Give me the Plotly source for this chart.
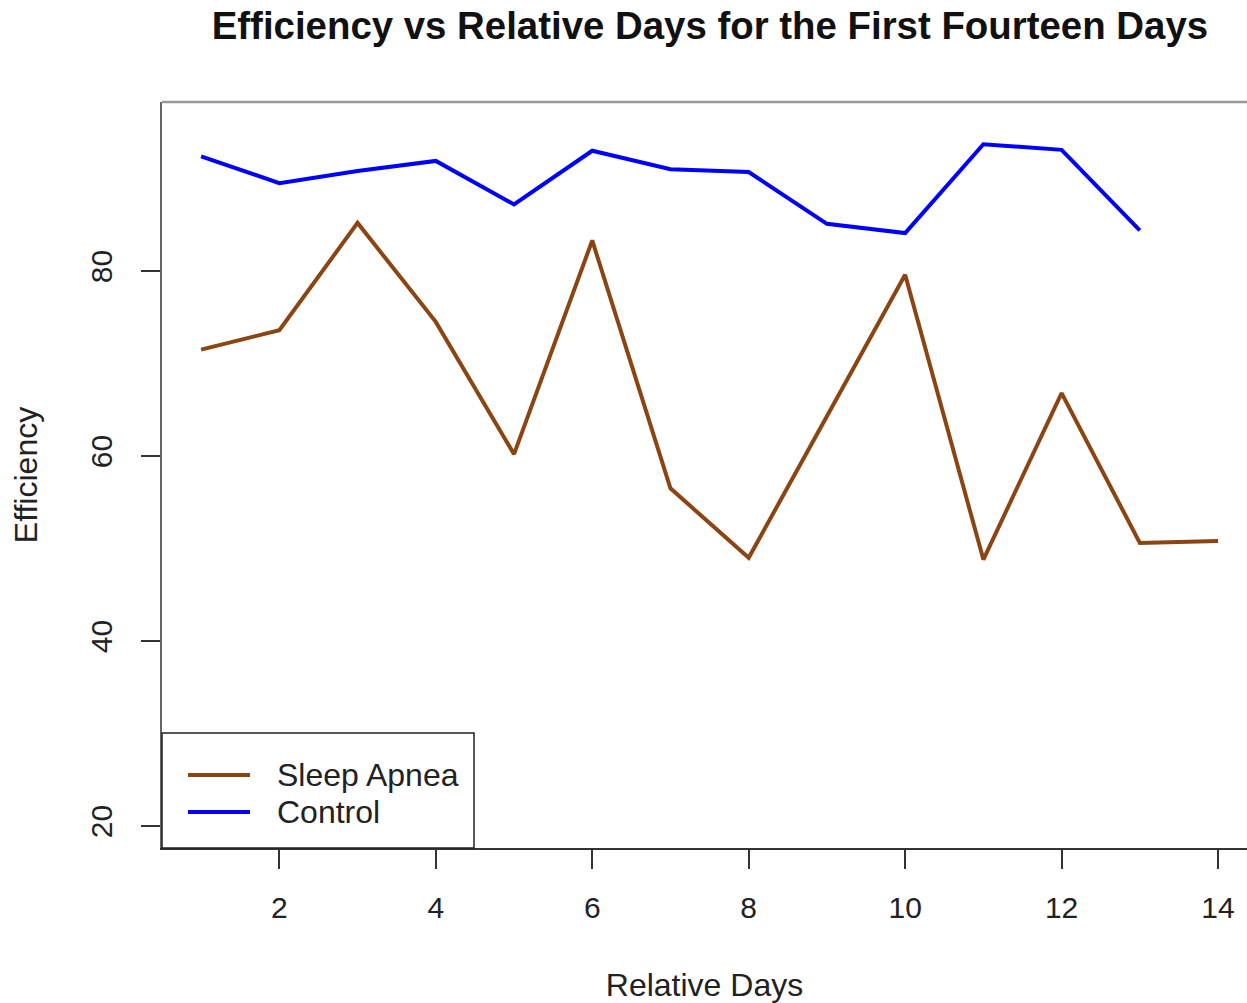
import plotly.graph_objects as go

# Sleep efficiency over the first fourteen relative days
days_apnea = list(range(1, 15))
apnea_eff = [71.5, 73.6, 85.2, 74.5, 60.2, 83.3, 56.5, 49.0, 64.3, 79.6, 48.8, 66.8, 50.6, 50.8]
days_control = list(range(1, 14))
control_eff = [92.4, 89.5, 90.8, 91.9, 87.2, 93.0, 91.0, 90.7, 85.1, 84.1, 93.7, 93.1, 84.4]

series_names = ["Sleep Apnea", "Control"]
series_colors = ["#8B4513", "#0000FF"]

x_ticks = [2, 4, 6, 8, 10, 12, 14]
y_ticks = [20, 40, 60, 80]

FONT = "Liberation Sans, Arial, Helvetica, sans-serif"
AXIS_COLOR = "#333333"
TEXT_COLOR = "#222222"

W, H = 1247, 1003
ML, MR, MT, MB = 162, 0, 102, 155
PW, PH = W - ML - MR, H - MT - MB


def px_x(px):
    """Figure pixel column -> paper x."""
    return (px - ML) / PW


def px_y(py):
    """Figure pixel row -> paper y."""
    return (H - MB - py) / PH


fig = go.Figure()
fig.add_trace(go.Scatter(
    x=days_apnea, y=apnea_eff, mode="lines", name=series_names[0],
    line=dict(color=series_colors[0], width=4),
))
fig.add_trace(go.Scatter(
    x=days_control, y=control_eff, mode="lines", name=series_names[1],
    line=dict(color=series_colors[1], width=4),
))

fig.update_layout(
    width=W, height=H,
    margin=dict(l=ML, r=MR, t=MT, b=MB),
    paper_bgcolor="white", plot_bgcolor="white",
    font=dict(family=FONT, size=30, color=TEXT_COLOR),
    title=dict(
        text="<b>Efficiency vs Relative Days for the First Fourteen Days</b>",
        font=dict(size=38.4, color="#111111"),
        x=0.505, xref="paper", xanchor="center",
        y=1 - 26 / H, yref="container", yanchor="middle",
    ),
    showlegend=False,
)

fig.update_xaxes(
    range=[0.5, 14.37], tickmode="array", tickvals=x_ticks,
    ticks="outside", ticklen=19, tickwidth=1.5, tickcolor=AXIS_COLOR,
    showline=True, linecolor=AXIS_COLOR, linewidth=2, mirror=False,
    showgrid=False, zeroline=False, ticklabelstandoff=13,
    tickfont=dict(size=30),
    title=dict(text="Relative Days", standoff=54, font=dict(size=32)),
)
fig.update_yaxes(
    range=[17.62, 98.27], tickmode="array", tickvals=y_ticks,
    ticks="outside", ticklen=19, tickwidth=1.5, tickcolor=AXIS_COLOR,
    showline=True, linecolor="#666666", linewidth=2, mirror=False,
    showgrid=False, zeroline=False, tickangle=-90, ticklabelstandoff=17,
    tickfont=dict(size=30),
    title=dict(text="Efficiency", standoff=38, font=dict(size=32)),
)

# top edge of the plot box
fig.add_shape(type="line", xref="paper", yref="paper", x0=0, x1=1, y0=1, y1=1,
              line=dict(color="#999999", width=2.5))

# legend box in the lower-left corner
fig.add_shape(type="rect", xref="paper", yref="paper",
              x0=px_x(162), x1=px_x(474), y0=px_y(848), y1=px_y(733),
              line=dict(color=TEXT_COLOR, width=1.5), fillcolor="white", layer="above")
for i, (name, color) in enumerate(zip(series_names, series_colors)):
    row_y = px_y(775 + 37 * i)
    fig.add_shape(type="line", xref="paper", yref="paper",
                  x0=px_x(188), x1=px_x(250), y0=row_y, y1=row_y,
                  line=dict(color=color, width=4), layer="above")
    fig.add_annotation(text=name, xref="paper", yref="paper",
                       x=px_x(275), y=row_y, xanchor="left", yanchor="middle",
                       showarrow=False, font=dict(size=32, color=TEXT_COLOR))

fig.write_html("out.html")
